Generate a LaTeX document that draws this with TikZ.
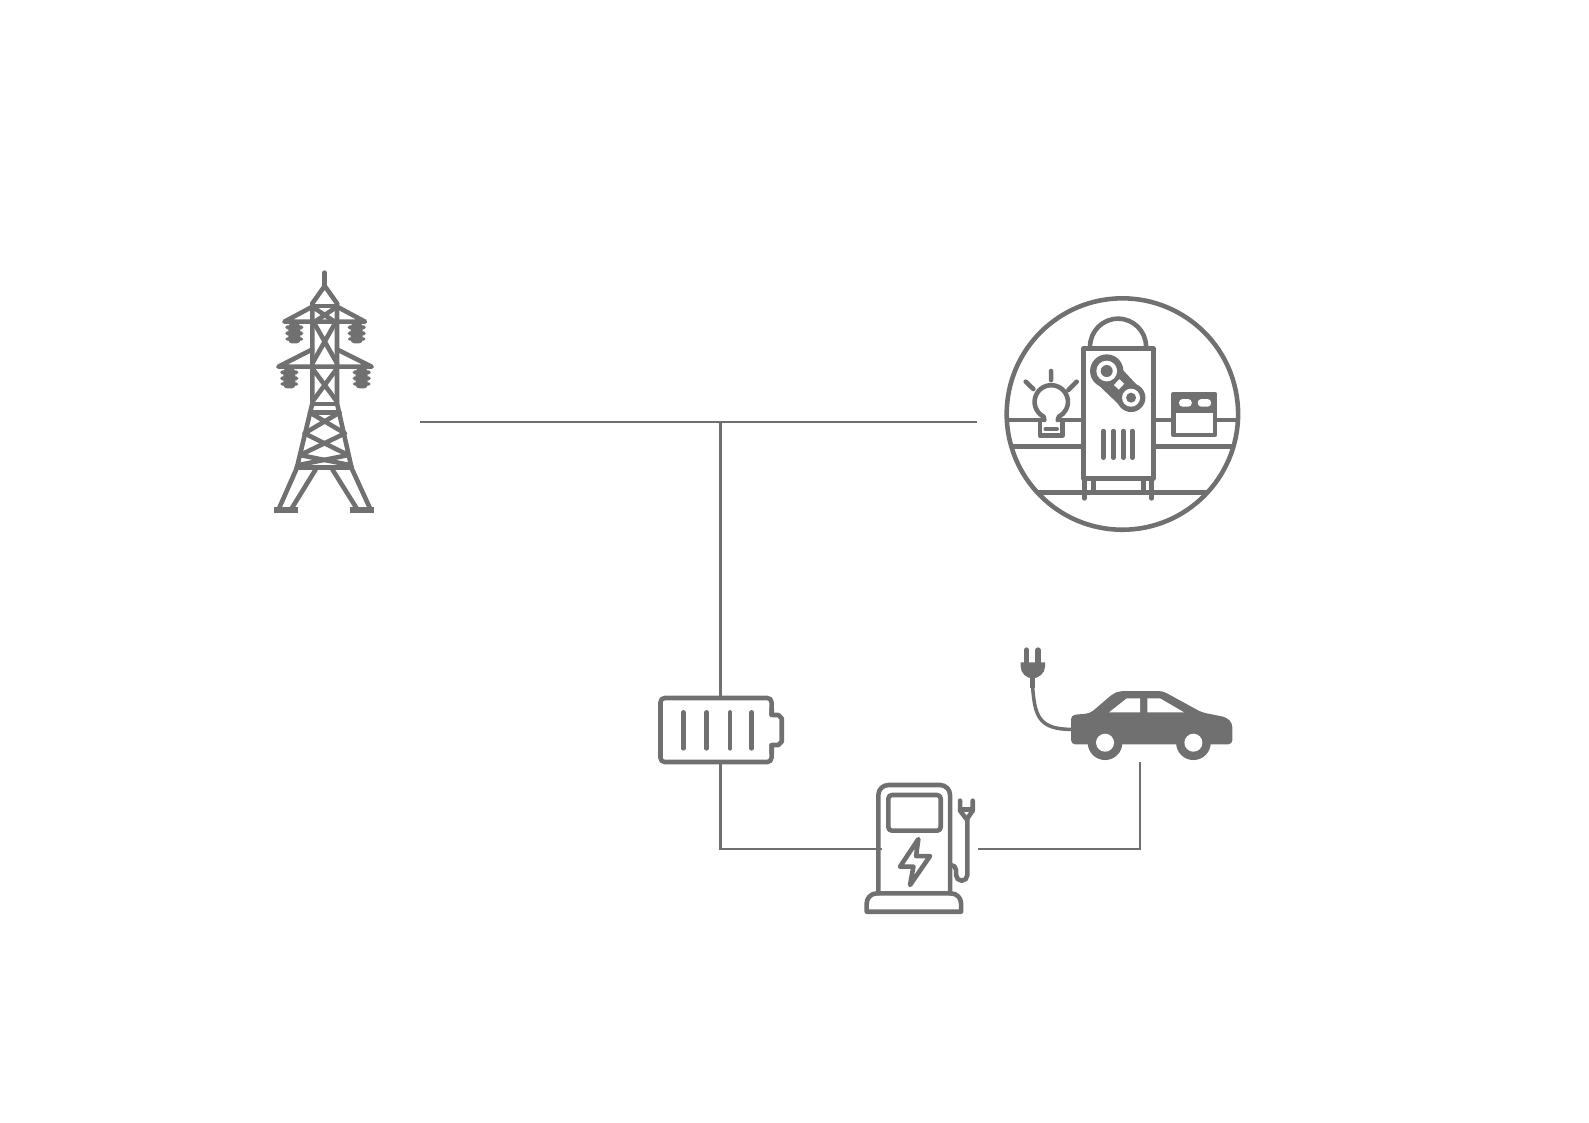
\documentclass[tikz,border=0pt]{standalone}
\definecolor{icongray}{HTML}{707070}
\begin{document}
\begin{tikzpicture}[
  x=0.01cm, y=-0.01cm,
  wire/.style={draw=icongray, line width=0.65pt},
  icon/.style={draw=icongray, line width=1.3pt, line join=round, line cap=round},
  battbox/.style={icon, rounded corners=1.2pt, inner sep=0pt, minimum width=1.11cm, minimum height=0.64cm},
  pumpbox/.style={inner sep=0pt, minimum width=0.72cm, minimum height=1.08cm},
  zoomed/.style={shift={#1}, x=0.03333mm, y=-0.03333mm}
]
\useasboundingbox (0,0) rectangle (1589,1122);

% Anchors for the wires
\coordinate (gridend) at (420,422);
\coordinate (junction) at (720.5,422);
\coordinate (plantend) at (977,422);
\node[battbox] (battery) at (716,730) {};
\coordinate (battop) at (720.5,698);
\coordinate (batbottom) at (720.5,762);
\node[pumpbox] (pump) at (914,839) {};
\coordinate (pumpleft) at (882,849);
\coordinate (pumpright) at (978,849);
\coordinate (carbottom) at (1140,762);

% Wires
\draw[wire] (gridend) -- (plantend);
\draw[wire] (junction) -- (battop);
\draw[wire] (batbottom) |- (pumpleft);
\draw[wire] (pumpright) -| (carbottom);

% Tower
\begin{scope}[zoomed={(255,260)}]
  \draw[icon] (209,38) -- (209,78);
  \draw[icon] (172,130) -- (209,78) -- (246,130);
  \draw[icon] (172,130) -- (172,430) -- (125,625);
  \draw[icon] (246,130) -- (246,430) -- (290,625);
  \draw[icon] (172,138) -- (246,138);
  % arms
  \draw[icon] (172,140) -- (88,185) -- (330,185) -- (246,140);
  \draw[icon] (172,268) -- (70,320) -- (350,320) -- (246,268);
  % upper crosses
  \draw[icon] (172,140) -- (246,190) (246,140) -- (172,190);
  \draw[icon] (178,190) -- (246,310) (240,190) -- (172,310);
  \draw[icon] (172,325) -- (246,425) (246,325) -- (172,425);
  % lower lattice
  \draw[icon] (172,432) -- (246,432) (165,458) -- (253,458);
  \draw[icon] (165,458) -- (270,520) -- (135,585) -- (285,615);
  \draw[icon] (253,458) -- (148,520) -- (280,585) -- (130,615);
  \draw[icon] (125,622) -- (290,622);
  % legs
  \draw[icon] (125,625) -- (72,745) (182,628) -- (110,745);
  \draw[icon] (232,628) -- (305,745) (290,625) -- (345,745);
  \draw[icon, line width=1.5pt, line cap=butt] (56,750) -- (130,750) (284,750) -- (358,750);
  % insulators
  \foreach \ix/\iy in {118/190, 305/190, 103/325, 320/325} {
    \fill[icongray, rounded corners=1pt] (\ix-18,\iy) rectangle (\ix+18,\iy+60);
    \fill[icongray, rounded corners=0.5pt] (\ix-27,\iy+6) rectangle (\ix+27,\iy+18);
    \fill[icongray, rounded corners=0.5pt] (\ix-27,\iy+24) rectangle (\ix+27,\iy+36);
    \fill[icongray, rounded corners=0.5pt] (\ix-27,\iy+42) rectangle (\ix+27,\iy+52);
  }
\end{scope}

% Plant
\begin{scope}[zoomed={(995,285)}]
  \draw[icon] (382,387) circle (347);
  % floors
  \draw[icon, line cap=butt] (38,405) -- (148,405) (190,405) -- (265,405) (475,405) -- (726,405);
  \draw[icon, line cap=butt] (49,485) -- (265,485) (475,485) -- (715,485);
  \draw[icon, line cap=butt] (130,622) -- (635,622);
  % machine
  \draw[icon] (265,190) rectangle (475,580);
  \draw[icon] (285,185) arc (180:360:84);
  \draw[icon] (268,580) -- (268,640) (470,580) -- (470,640);
  \draw[icon] (295,580) -- (295,622) (445,580) -- (445,622);
  \foreach \vx in {325,355,385,412}
    \draw[icon] (\vx,438) -- (\vx,518);
  % arm
  \fill[icongray] (305,295) -- (365,235) -- (435,310) -- (378,365) -- cycle;
  \fill[icongray] (335,258) circle (50) (408,338) circle (43);
  \fill[white] (335,258) circle (31) (408,338) circle (27);
  \fill[icongray] (335,258) circle (18) (408,338) circle (15);
  \fill[white, rotate around={47:(372,298)}] (360,288) rectangle (384,308);
  % lamp
  \draw[icon] (148,405) -- (146,395) arc (117:423:50) -- (188,405);
  \draw[icon] (135,405) -- (135,452) -- (202,452) -- (202,405);
  \draw[icon] (152,432) -- (185,432);
  \draw[icon] (168,258) -- (168,285) (92,290) -- (115,312) (245,290) -- (220,315);
  % box
  \draw[icon, fill=white] (535,327) rectangle (660,450);
  \fill[icongray] (535,327) rectangle (660,385);
  \fill[white, rounded corners=1pt] (552,342) rectangle (590,365);
  \fill[white, rounded corners=1pt] (608,342) rectangle (648,365);
\end{scope}

% Car
\begin{scope}[zoomed={(1010,635)}]
  \fill[icongray, rounded corners=1.2pt] (183,328) -- (183,240) -- (240,235) -- (310,175) -- (330,168) -- (458,168)
    -- (575,232) -- (650,247) -- (667,265) -- (667,328) -- cycle;
  \fill[icongray] (285,323) circle (52) (550,323) circle (52);
  \fill[white] (285,323) circle (27) (550,323) circle (27);
  \fill[white] (297,232) -- (350,190) -- (390,190) -- (390,232) -- cycle;
  \fill[white] (412,190) -- (450,190) -- (522,232) -- (412,232) -- cycle;
  % plug
  \fill[icongray] (32,82) -- (105,82) -- (105,95) .. controls (105,115) and (85,130) .. (68,130)
    .. controls (50,130) and (32,115) .. (32,95) -- cycle;
  \draw[icon, line width=1.5pt] (50,45) -- (50,85) (84,45) -- (84,85);
  \draw[icon, line width=1.5pt, line cap=butt] (68,128) -- (68,160);
  \draw[icon, line width=1pt] (68,160) .. controls (75,240) and (85,283) .. (183,283);
\end{scope}

% Pump
\begin{scope}[zoomed={(850,770)}]
  \draw[icon] (85,370) -- (85,75) arc (180:270:30) -- (270,45) arc (270:360:30) -- (300,370);
  \draw[icon, rounded corners=1pt] (115,75) rectangle (272,182);
  \draw[icon] (205,207) -- (150,290) -- (190,290) -- (180,345) -- (240,258) -- (198,258) -- cycle;
  \draw[icon] (50,425) -- (50,400) arc (180:270:30) -- (303,370) arc (270:360:30) -- (333,425) -- cycle;
  % nozzle
  \draw[icon] (330,92) -- (330,122) -- (350,148) -- (368,122) -- (368,92);
  \draw[icon] (330,118) -- (368,118);
  \draw[icon] (352,148) -- (352,315) arc (0:180:17) -- (318,300) arc (0:-90:15);
\end{scope}

% Battery
\begin{scope}[zoomed={(650,685)}]
  \fill[white] (355,92) rectangle (375,178);
  \draw[icon] (365,70) -- (365,90) -- (385,90) -- (395,100) -- (395,170) -- (385,180) -- (365,180) -- (365,205);
  \foreach \bx in {100,170,240,305}
    \draw[icon] (\bx,82) -- (\bx,190);
\end{scope}
\end{tikzpicture}
\end{document}
